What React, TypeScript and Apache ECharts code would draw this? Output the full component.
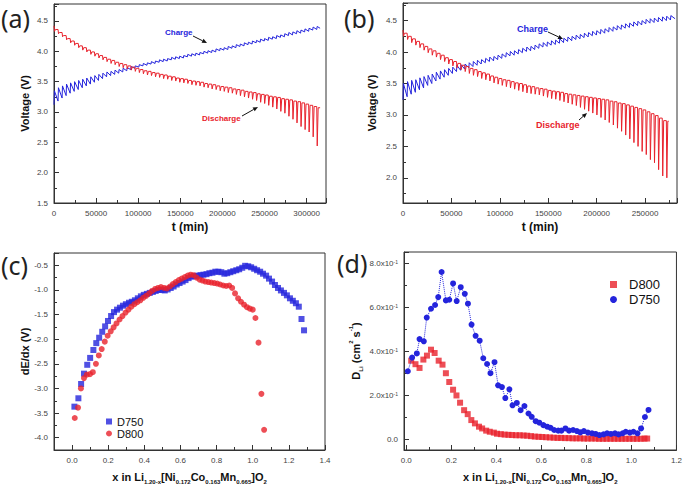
import React, { useEffect, useRef } from 'react';
import * as echarts from 'echarts';

const FONT = '"Liberation Sans", Arial, sans-serif';
const BLUE = '#2424dc';
const RED = '#e8222c';

// ---- (a) GITT, pulse period (min) and per-pulse voltages ----
const aPeriod = 4800;
const aChargeLow = [3.12,3.18,3.23,3.27,3.31,3.34,3.37,3.40,3.43,3.46,3.49,3.52,3.55,3.58,3.60,3.62,3.64,3.66,3.68,3.70,3.72,3.74,3.76,3.77,3.79,3.80,3.82,3.83,3.84,3.86,3.87,3.88,3.89,3.91,3.92,3.93,3.94,3.96,3.97,3.98,3.99,4.01,4.02,4.03,4.05,4.06,4.08,4.09,4.11,4.12,4.14,4.15,4.17,4.18,4.20,4.21,4.23,4.24,4.26,4.27,4.29,4.30,4.32,4.33,4.35,4.36];
const aChargeHigh = [3.35,3.40,3.43,3.46,3.48,3.50,3.52,3.54,3.56,3.58,3.60,3.62,3.64,3.66,3.67,3.69,3.70,3.72,3.73,3.75,3.76,3.78,3.80,3.81,3.83,3.84,3.86,3.87,3.88,3.90,3.91,3.92,3.93,3.95,3.96,3.97,3.98,4.00,4.01,4.02,4.04,4.05,4.06,4.08,4.09,4.11,4.12,4.14,4.15,4.17,4.18,4.20,4.21,4.23,4.24,4.26,4.27,4.29,4.31,4.32,4.34,4.35,4.37,4.38,4.40,4.41];
const aChargeEnd = [316000, 4.38];
const aDischargeTop = [4.42,4.36,4.31,4.26,4.21,4.17,4.13,4.09,4.06,4.02,3.99,3.96,3.93,3.90,3.87,3.85,3.82,3.80,3.78,3.76,3.74,3.72,3.70,3.68,3.67,3.65,3.64,3.62,3.61,3.59,3.58,3.56,3.55,3.54,3.52,3.51,3.50,3.49,3.47,3.46,3.45,3.43,3.42,3.41,3.40,3.38,3.37,3.36,3.34,3.33,3.32,3.30,3.29,3.28,3.26,3.25,3.24,3.22,3.21,3.20,3.18,3.17,3.15,3.13,3.11,3.09];
const aDischargeTip = [4.33,4.29,4.24,4.19,4.14,4.10,4.06,4.02,3.99,3.95,3.92,3.89,3.86,3.83,3.80,3.78,3.75,3.73,3.71,3.69,3.67,3.65,3.63,3.61,3.60,3.58,3.57,3.55,3.54,3.52,3.51,3.49,3.48,3.47,3.45,3.44,3.43,3.41,3.40,3.38,3.37,3.35,3.34,3.32,3.31,3.29,3.27,3.25,3.23,3.21,3.19,3.16,3.14,3.11,3.08,3.05,3.01,2.98,2.93,2.88,2.82,2.76,2.71,2.67,2.59,2.44];
const aDischargeEnd = [316000, 3.07];

// ---- (b) ----
const bPeriod = 4250;
const bChargeLow = [3.24,3.29,3.33,3.36,3.40,3.43,3.47,3.50,3.54,3.57,3.60,3.63,3.66,3.69,3.71,3.73,3.75,3.77,3.79,3.81,3.83,3.85,3.86,3.88,3.90,3.92,3.94,3.95,3.97,3.99,4.01,4.02,4.04,4.06,4.08,4.09,4.11,4.12,4.14,4.15,4.17,4.18,4.20,4.21,4.23,4.24,4.26,4.27,4.29,4.30,4.32,4.33,4.35,4.36,4.38,4.39,4.41,4.42,4.43,4.45,4.46,4.47,4.48,4.49,4.50,4.51];
const bChargeHigh = [3.50,3.53,3.55,3.56,3.59,3.61,3.63,3.65,3.68,3.70,3.72,3.74,3.76,3.79,3.80,3.81,3.83,3.85,3.87,3.88,3.90,3.92,3.93,3.95,3.97,3.99,4.01,4.02,4.04,4.06,4.08,4.09,4.11,4.13,4.15,4.16,4.18,4.19,4.21,4.22,4.24,4.25,4.27,4.28,4.30,4.31,4.33,4.34,4.36,4.37,4.39,4.40,4.42,4.43,4.45,4.46,4.48,4.49,4.50,4.52,4.53,4.54,4.55,4.56,4.57,4.58];
const bChargeEnd = [281000, 4.53];
const bDischargeTop = [4.35,4.30,4.25,4.21,4.17,4.13,4.09,4.05,4.02,3.98,3.95,3.91,3.88,3.85,3.82,3.79,3.77,3.74,3.72,3.69,3.67,3.65,3.62,3.60,3.58,3.56,3.55,3.53,3.51,3.50,3.48,3.46,3.45,3.43,3.42,3.41,3.39,3.38,3.37,3.36,3.34,3.33,3.32,3.31,3.30,3.29,3.28,3.27,3.26,3.25,3.24,3.22,3.21,3.19,3.18,3.16,3.14,3.12,3.10,3.08,3.05,3.02,2.99,2.95,2.91];
const bDischargeTip = [4.25,4.20,4.15,4.11,4.07,4.03,3.99,3.95,3.92,3.88,3.85,3.81,3.78,3.75,3.72,3.69,3.66,3.63,3.61,3.58,3.56,3.54,3.51,3.49,3.47,3.45,3.43,3.41,3.39,3.37,3.35,3.34,3.33,3.32,3.30,3.28,3.26,3.25,3.23,3.21,3.19,3.17,3.15,3.12,3.09,3.06,3.03,3.00,2.96,2.92,2.88,2.84,2.79,2.74,2.68,2.62,2.56,2.50,2.42,2.37,2.29,2.24,2.13,2.03,2.00];
const bDischargeEnd = [274500, 2.90];

// ---- (c) dE/dx ----
const cD750X = [0.013,0.035,0.050,0.066,0.084,0.100,0.118,0.134,0.150,0.167,0.183,0.199,0.216,0.232,0.249,0.265,0.282,0.298,0.315,0.331,0.348,0.364,0.381,0.397,0.414,0.430,0.447,0.463,0.480,0.496,0.513,0.529,0.546,0.562,0.579,0.595,0.612,0.628,0.645,0.661,0.678,0.694,0.711,0.727,0.744,0.760,0.777,0.793,0.810,0.826,0.843,0.859,0.876,0.892,0.909,0.925,0.942,0.958,0.975,0.991,1.008,1.024,1.041,1.057,1.074,1.090,1.107,1.123,1.140,1.156,1.173,1.189,1.206,1.222,1.239,1.255,1.270,1.284];
const cD750Y = [-3.37,-3.20,-2.91,-2.70,-2.52,-2.38,-2.22,-2.08,-1.97,-1.85,-1.74,-1.63,-1.53,-1.45,-1.40,-1.36,-1.32,-1.29,-1.26,-1.24,-1.21,-1.17,-1.13,-1.10,-1.08,-1.06,-1.04,-1.02,-1.00,-1.00,-1.01,-0.99,-0.96,-0.93,-0.89,-0.86,-0.83,-0.80,-0.76,-0.73,-0.72,-0.71,-0.70,-0.69,-0.68,-0.66,-0.65,-0.63,-0.63,-0.64,-0.67,-0.66,-0.64,-0.62,-0.60,-0.58,-0.55,-0.51,-0.52,-0.54,-0.57,-0.60,-0.63,-0.67,-0.71,-0.77,-0.83,-0.90,-0.96,-1.01,-1.06,-1.11,-1.17,-1.22,-1.27,-1.34,-1.59,-1.82];
const cD800X = [0.015,0.033,0.049,0.066,0.082,0.099,0.115,0.132,0.148,0.164,0.181,0.197,0.214,0.230,0.246,0.263,0.279,0.296,0.312,0.328,0.345,0.361,0.378,0.394,0.410,0.427,0.443,0.460,0.476,0.492,0.509,0.525,0.542,0.558,0.574,0.591,0.607,0.624,0.640,0.656,0.673,0.689,0.706,0.722,0.738,0.755,0.771,0.788,0.804,0.820,0.837,0.853,0.870,0.886,0.902,0.919,0.935,0.952,0.968,0.984,1.000,1.015,1.032,1.048,1.063];
const cD800Y = [-3.60,-3.39,-3.00,-2.79,-2.72,-2.71,-2.67,-2.50,-2.33,-2.20,-2.05,-1.93,-1.84,-1.76,-1.68,-1.60,-1.53,-1.46,-1.40,-1.34,-1.29,-1.25,-1.21,-1.16,-1.12,-1.07,-1.02,-0.98,-0.96,-0.94,-0.96,-0.97,-0.93,-0.88,-0.84,-0.80,-0.77,-0.74,-0.71,-0.69,-0.70,-0.75,-0.79,-0.81,-0.83,-0.84,-0.85,-0.86,-0.87,-0.89,-0.91,-0.92,-0.91,-0.96,-1.07,-1.17,-1.24,-1.30,-1.35,-1.38,-1.40,-1.57,-2.07,-3.11,-3.84];

// ---- (d) D_Li ----
const dD750X = [0.007,0.026,0.047,0.059,0.078,0.091,0.110,0.128,0.142,0.157,0.176,0.191,0.208,0.224,0.242,0.260,0.274,0.290,0.308,0.326,0.342,0.359,0.374,0.392,0.408,0.425,0.440,0.458,0.472,0.491,0.508,0.525,0.543,0.557,0.575,0.591,0.609,0.626,0.641,0.657,0.675,0.689,0.707,0.723,0.741,0.758,0.773,0.789,0.807,0.825,0.841,0.858,0.876,0.892,0.909,0.927,0.943,0.961,0.975,0.993,1.009,1.027,1.043,1.060,1.076];
const dD750Y = [0.308,0.370,0.389,0.454,0.444,0.552,0.592,0.609,0.645,0.759,0.630,0.633,0.707,0.627,0.690,0.660,0.615,0.520,0.469,0.447,0.367,0.341,0.299,0.349,0.244,0.236,0.186,0.226,0.153,0.164,0.131,0.150,0.116,0.101,0.081,0.074,0.063,0.056,0.051,0.041,0.038,0.038,0.048,0.038,0.041,0.036,0.030,0.036,0.029,0.026,0.023,0.018,0.021,0.026,0.023,0.026,0.021,0.026,0.033,0.029,0.033,0.026,0.048,0.100,0.132];
const dD800X = [0.022,0.041,0.059,0.076,0.092,0.110,0.126,0.144,0.161,0.176,0.191,0.208,0.223,0.239,0.257,0.273,0.289,0.305,0.323,0.337,0.355,0.371,0.389,0.403,0.420,0.437,0.454,0.470,0.487,0.504,0.521,0.537,0.554,0.571,0.588,0.604,0.621,0.638,0.655,0.672,0.688,0.705,0.722,0.739,0.756,0.772,0.789,0.806,0.823,0.840,0.856,0.873,0.890,0.907,0.924,0.941,0.957,0.974,0.991,1.008,1.025,1.042,1.058,1.070];
const dD800Y = [0.356,0.340,0.323,0.361,0.379,0.406,0.391,0.356,0.338,0.299,0.259,0.224,0.198,0.165,0.131,0.113,0.086,0.071,0.056,0.048,0.038,0.033,0.029,0.024,0.022,0.020,0.019,0.018,0.017,0.017,0.016,0.015,0.013,0.011,0.010,0.009,0.008,0.007,0.006,0.005,0.005,0.004,0.004,0.003,0.003,0.003,0.002,0.002,0.002,0.002,0.001,0.001,0.001,0.001,0.001,0.001,0.001,0.001,0.001,0.001,0.001,0.001,0.002,0.002];

function chargeTrace(period: number, low: number[], high: number[], end: number[]) {
  const pts: number[][] = [];
  low.forEach((l, i) => {
    const t = i * period;
    pts.push([t, l]);
    pts.push([t + 0.1 * period, high[i]]);
  });
  pts.push(end);
  return pts;
}
function dischargeTrace(period: number, top: number[], tip: number[], end: number[]) {
  const pts: number[][] = [];
  top.forEach((r, i) => {
    const t = i * period;
    const next = i + 1 < top.length ? top[i + 1] : end[1];
    pts.push([t, r]);
    pts.push([t + 0.12 * period, tip[i]]);
    pts.push([t + 0.35 * period, next]);
  });
  pts.push(end);
  return pts;
}
const zip = (xs: number[], ys: number[]) => xs.map((x, i) => [x, ys[i]]);

const onStep = (v: number, step: number) => Math.abs(Math.round(v / step) * step - v) < step * 1e-6;
const fmt = (step: number, digits: number) => (v: number) => (onStep(v, step) ? v.toFixed(digits) : '');

const tickStyle = { lineStyle: { color: '#333', width: 1 } };
function axis(kind: 'x' | 'y', gridIndex: number, o: any) {
  const { nameTextStyle, formatter, ...rest } = o;
  return {
    type: 'value',
    gridIndex,
    position: kind === 'x' ? 'bottom' : 'left',
    nameLocation: 'middle',
    splitLine: { show: false },
    axisLine: { show: true, onZero: false, lineStyle: { color: '#333', width: 1 } },
    axisTick: { show: true, inside: true, length: 5, ...tickStyle },
    minorTick: { show: true, splitNumber: 2, length: 3, ...tickStyle },
    axisLabel: { color: '#444', fontSize: 8, fontFamily: FONT, margin: 6, formatter },
    nameTextStyle: { color: '#111', fontWeight: 'bold', fontSize: 11, fontFamily: FONT, ...(nameTextStyle || {}) },
    ...rest,
  };
}

const subRich = {
  t: { fontSize: 11, fontWeight: 'bold', fontFamily: FONT, color: '#111', lineHeight: 16, verticalAlign: 'middle' },
  s: { fontSize: 6, fontWeight: 'bold', fontFamily: FONT, color: '#111', lineHeight: 6, verticalAlign: 'bottom' },
};
const xName = '{t|x in Li}{s|1.20-x}{t|[Ni}{s|0.172}{t|Co}{s|0.163}{t|Mn}{s|0.665}{t|]O}{s|2}';

function arrow(x1: number, y1: number, x2: number, y2: number) {
  const dx = x2 - x1, dy = y2 - y1;
  const L = Math.hypot(dx, dy);
  const ux = dx / L, uy = dy / L;
  const hl = 5, hw = 2.2;
  const bx = x2 - ux * hl, by = y2 - uy * hl;
  return [
    { type: 'line', shape: { x1, y1, x2: bx, y2: by }, style: { stroke: '#111', lineWidth: 1 } },
    { type: 'polygon', shape: { points: [[x2, y2], [bx - uy * hw, by + ux * hw], [bx + uy * hw, by - ux * hw]] }, style: { fill: '#111' } },
  ];
}

function panelLabel(text: string, x: number, y: number) {
  return { type: 'text', x, y, style: { text, fontSize: 25, fontFamily: '"Noto Sans", sans-serif', fill: '#222', textVerticalAlign: 'top' } };
}
function note(text: string, x: number, y: number, color: string, size: number) {
  return { type: 'text', x, y, style: { text, fontSize: size, fontWeight: 'bold', fontFamily: FONT, fill: color, textVerticalAlign: 'middle' } };
}

const option: any = {
  animation: false,
  backgroundColor: '#fff',
  textStyle: { fontFamily: FONT },
  grid: [
    { left: 54, top: 4, width: 272, height: 199, show: true, borderColor: '#333', borderWidth: 1 },
    { left: 403, top: 3, width: 274, height: 200, show: true, borderColor: '#333', borderWidth: 1 },
    { left: 54, top: 253, width: 271, height: 200, show: true, borderColor: '#333', borderWidth: 1 },
    { left: 404, top: 252, width: 276, height: 200, show: true, borderColor: '#333', borderWidth: 1 },
  ],
  xAxis: [
    axis('x', 0, { min: 0, max: 323000, interval: 50000, name: 't (min)', nameGap: 18, formatter: fmt(50000, 0), nameTextStyle: { fontSize: 12 } }),
    axis('x', 1, { min: 0, max: 283000, interval: 50000, name: 't (min)', nameGap: 18, formatter: fmt(50000, 0), nameTextStyle: { fontSize: 12 } }),
    axis('x', 2, { min: -0.1, max: 1.4, splitNumber: 7, name: xName, nameGap: 19, formatter: fmt(0.2, 1), nameTextStyle: { rich: subRich } }),
    axis('x', 3, { min: -0.01, max: 1.2, splitNumber: 6, name: xName, nameGap: 19, formatter: fmt(0.2, 1), nameTextStyle: { rich: subRich } }),
  ],
  yAxis: [
    axis('y', 0, { min: 1.5, max: 4.78, interval: 0.5, name: 'Voltage (V)', nameGap: 24, formatter: fmt(0.5, 1) }),
    axis('y', 1, { min: 1.6, max: 4.78, splitNumber: 6, name: 'Voltage (V)', nameGap: 26, formatter: fmt(0.5, 1) }),
    axis('y', 2, { min: -4.25, max: -0.25, splitNumber: 8, name: 'dE/dx (V)', nameGap: 24, formatter: fmt(0.5, 1) }),
    axis('y', 3, {
      min: -0.05, max: 0.85, splitNumber: 4, nameGap: 40,
      name: '{t|D}{s|Li}{t| (cm}{p|2}{t| s}{p|-1}{t|)}',
      nameTextStyle: { rich: {
        t: { fontSize: 11, fontWeight: 'bold', fontFamily: FONT, color: '#111', lineHeight: 16, verticalAlign: 'middle' },
        s: { fontSize: 6, fontWeight: 'bold', fontFamily: FONT, color: '#111', lineHeight: 6, verticalAlign: 'bottom' },
        p: { fontSize: 6, fontWeight: 'bold', fontFamily: FONT, color: '#111', lineHeight: 6, verticalAlign: 'top' },
      } },
      formatter: (v: number) => {
        if (!onStep(v, 0.2)) return '';
        if (Math.abs(v) < 1e-9) return '{b|0.0}';
        return '{b|' + (v * 10).toFixed(1) + 'x10}{p|-1}';
      },
    }),
  ],
  legend: [
    {
      left: 101, top: 411, orient: 'vertical', itemWidth: 6, itemHeight: 6, itemGap: 1, selectedMode: false,
      textStyle: { fontSize: 11, color: '#111', fontFamily: FONT },
      formatter: (n: string) => n.slice(2),
      data: [{ name: 'c-D750', icon: 'rect' }, { name: 'c-D800', icon: 'circle' }],
    },
    {
      left: 605, top: 273, orient: 'vertical', itemWidth: 7, itemHeight: 7, itemGap: 2, selectedMode: false,
      textStyle: { fontSize: 13, color: '#111', fontFamily: FONT, padding: [0, 0, 0, 7] },
      formatter: (n: string) => n.slice(2),
      data: [{ name: 'd-D800', icon: 'rect' }, { name: 'd-D750', icon: 'circle' }],
    },
  ],
  series: [
    { type: 'line', name: 'a-Charge', xAxisIndex: 0, yAxisIndex: 0, showSymbol: false, lineStyle: { color: BLUE, width: 1 }, data: chargeTrace(aPeriod, aChargeLow, aChargeHigh, aChargeEnd) },
    { type: 'line', name: 'a-Discharge', xAxisIndex: 0, yAxisIndex: 0, showSymbol: false, lineStyle: { color: RED, width: 1 }, data: dischargeTrace(aPeriod, aDischargeTop, aDischargeTip, aDischargeEnd) },
    { type: 'line', name: 'b-Charge', xAxisIndex: 1, yAxisIndex: 1, showSymbol: false, lineStyle: { color: BLUE, width: 1 }, data: chargeTrace(bPeriod, bChargeLow, bChargeHigh, bChargeEnd) },
    { type: 'line', name: 'b-Discharge', xAxisIndex: 1, yAxisIndex: 1, showSymbol: false, lineStyle: { color: RED, width: 1 }, data: dischargeTrace(bPeriod, bDischargeTop, bDischargeTip, bDischargeEnd) },
    { type: 'scatter', name: 'c-D750', xAxisIndex: 2, yAxisIndex: 2, symbol: 'rect', symbolSize: 6, itemStyle: { color: BLUE }, data: zip(cD750X, cD750Y) },
    { type: 'scatter', name: 'c-D800', xAxisIndex: 2, yAxisIndex: 2, symbol: 'circle', symbolSize: 6, itemStyle: { color: RED }, data: zip(cD800X, cD800Y) },
    { type: 'scatter', name: 'd-D800', xAxisIndex: 3, yAxisIndex: 3, symbol: 'rect', symbolSize: 6, itemStyle: { color: RED }, data: zip(dD800X, dD800Y) },
    { type: 'line', name: 'd-D750', xAxisIndex: 3, yAxisIndex: 3, symbol: 'circle', symbolSize: 6, showAllSymbol: true, itemStyle: { color: BLUE }, lineStyle: { color: BLUE, width: 1, type: 'dotted' }, data: zip(dD750X, dD750Y) },
  ],
  graphic: [
    panelLabel('(a)', 1, 5),
    panelLabel('(b)', 344, 5),
    panelLabel('(c)', 1, 252),
    panelLabel('(d)', 337, 250),
    note('Charge', 165, 32, BLUE, 8),
    note('Discharge', 202, 118, RED, 8),
    note('Charge', 517, 29, BLUE, 9),
    note('Discharge', 536, 125, RED, 9),
    ...arrow(193, 36, 207, 43),
    ...arrow(242, 116, 258, 107),
    ...arrow(548, 32, 563, 39),
    ...arrow(579, 120, 587, 113),
  ],
};
option.yAxis[3].axisLabel.rich = {
  b: { fontSize: 8, color: '#444', fontFamily: FONT },
  p: { fontSize: 5, color: '#444', fontFamily: FONT, verticalAlign: 'top', lineHeight: 6 },
};

export default function App() {
  const ref = useRef<HTMLDivElement>(null);
  useEffect(() => {
    const chart = echarts.init(ref.current!, null, { renderer: 'svg' });
    chart.setOption(option);
    return () => chart.dispose();
  }, []);
  return <div ref={ref} style={{ position: 'fixed', left: 0, top: 0, width: 685, height: 486, background: '#fff' }} />;
}
